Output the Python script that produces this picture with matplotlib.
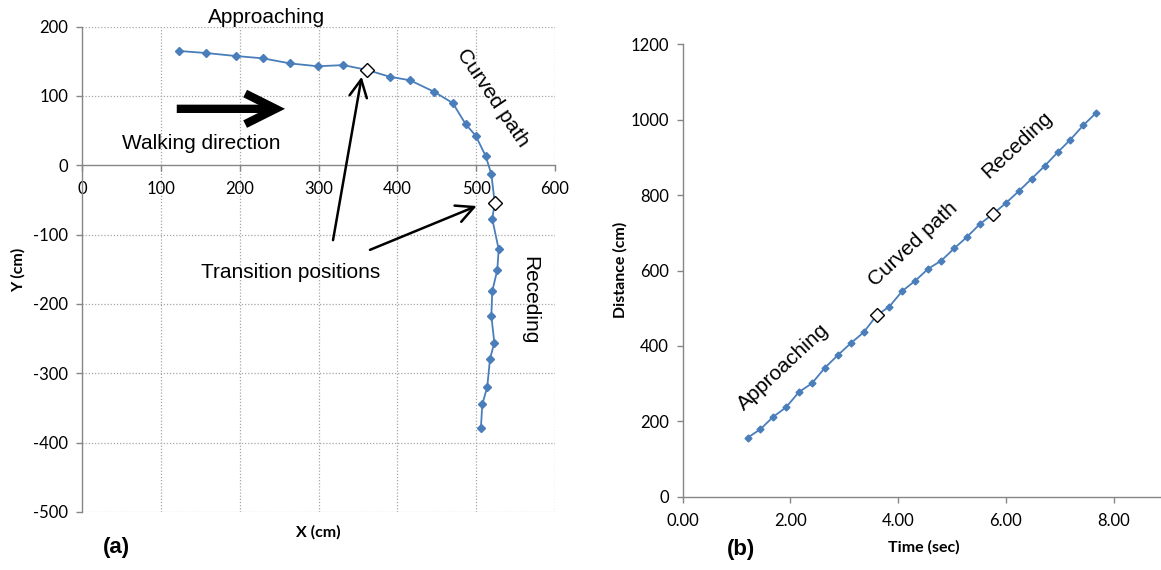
import matplotlib
matplotlib.use("Agg")
import matplotlib.pyplot as plt
import numpy as np

# ---------------- data ----------------
# (a) walking trajectory (cm)
path_x = [122.5, 157.5, 194.8, 229.0, 264.0, 298.9, 331.3, 361.8, 390.2, 416.0,
          446.4, 470.2, 486.7, 499.4, 512.0, 519.2, 523.5, 520.4, 528.5, 526.8,
          520.4, 519.2, 523.0, 517.5, 514.0, 507.7, 506.0]
path_y = [165.0, 162.0, 157.7, 154.4, 147.0, 142.9, 144.6, 137.5, 127.8, 122.7,
          106.2, 89.9, 59.2, 42.7, 13.4, -12.6, -54.0, -77.5, -121.0, -151.0,
          -181.5, -217.0, -256.0, -279.5, -320.0, -345.0, -378.6]
path_transitions = [7, 16]

# (b) distance vs time
time_s = [1.207, 1.441, 1.677, 1.918, 2.160, 2.401, 2.637, 2.878, 3.120, 3.361,
          3.603, 3.836, 4.078, 4.319, 4.561, 4.802, 5.043, 5.279, 5.520, 5.762,
          6.003, 6.245, 6.481, 6.722, 6.964, 7.198, 7.439, 7.680]
dist_cm = [156.5, 178.8, 211.4, 237.1, 277.7, 300.8, 341.4, 375.1, 406.9, 436.1,
           481.2, 504.0, 545.6, 572.9, 604.8, 626.0, 658.9, 688.9, 723.4, 749.9,
           779.1, 810.9, 843.6, 877.3, 913.6, 947.0, 985.1, 1018.6]
dist_transitions = [10, 19]

x_ticks_a = [0, 100, 200, 300, 400, 500, 600]
y_ticks_a = [-500, -400, -300, -200, -100, 0, 100, 200]
x_ticks_b = [0, 2, 4, 6, 8]
y_ticks_b = [0, 200, 400, 600, 800, 1000, 1200]

# ---------------- style ----------------
BLUE = "#4A7EBB"
AXC = "#868686"
GRIDC = "#A6A6A6"
TICKFONT = "Lato"
TXTFONT = "Liberation Sans"

W, H = 1161, 570
fig = plt.figure(figsize=(W / 100, H / 100), dpi=100)

# ---------------- (a) ----------------
axa = fig.add_axes([82.2 / W, 1 - 511.8 / H, (555.0 - 82.2) / W, (511.8 - 26.7) / H])
axa.set_xlim(0, 600)
axa.set_ylim(-500, 200)
for s in ["top", "right"]:
    axa.spines[s].set_visible(False)
axa.spines["bottom"].set_position(("data", 0))
for s in ["left", "bottom"]:
    axa.spines[s].set_color(AXC)
    axa.spines[s].set_linewidth(1.0)
axa.set_xticks(x_ticks_a)
axa.set_yticks(y_ticks_a)
axa.set_xticklabels([str(v) for v in x_ticks_a])
axa.set_yticklabels([str(v) for v in y_ticks_a])
axa.tick_params(axis="both", colors=AXC, labelcolor="black", length=4, width=1.0,
                direction="out", labelsize=12)
axa.tick_params(axis="x", pad=7)
axa.tick_params(axis="y", pad=6)
for lab in axa.get_xticklabels() + axa.get_yticklabels():
    lab.set_fontfamily(TICKFONT)
for v in x_ticks_a[1:]:
    axa.axvline(v, color=GRIDC, lw=0.9, ls=(0, (1, 1.5)), zorder=0)
for v in y_ticks_a:
    if v != 0:
        axa.axhline(v, color=GRIDC, lw=0.9, ls=(0, (1, 1.5)), zorder=0)

axa.plot(path_x, path_y, color=BLUE, lw=1.3, marker="D", ms=4.5,
         mfc=BLUE, mec=BLUE, zorder=3)
axa.plot([path_x[i] for i in path_transitions], [path_y[i] for i in path_transitions],
         ls="none", marker="D", ms=7.5, mfc="white", mec="black", mew=1.0, zorder=4)

axa.text(233.5, 213.7, "Approaching", fontsize=15, family=TXTFONT,
         ha="center", va="center", clip_on=False)
axa.text(151, 32, "Walking direction", fontsize=15, family=TXTFONT,
         ha="center", va="center")
axa.text(521, 97, "Curved path", fontsize=15, family=TXTFONT,
         ha="center", va="center", rotation=-56)
axa.text(568, -194.5, "Receding", fontsize=15, family=TXTFONT,
         ha="center", va="center", rotation=-90)
axa.text(264, -154, "Transition positions", fontsize=15, family=TXTFONT,
         ha="center", va="center")

# thick walking direction arrow
axa.annotate("", xy=(257.4, 81.5), xytext=(120, 81.5),
             arrowprops=dict(arrowstyle="->,head_length=1.1,head_width=0.55",
                             lw=6, color="black", mutation_scale=20,
                             shrinkA=0, shrinkB=0, joinstyle="miter",
                             capstyle="butt"))
# transition arrows
axa.annotate("", xy=(354.7, 127.8), xytext=(318.3, -108),
             arrowprops=dict(arrowstyle="->,head_length=0.9,head_width=0.45",
                             lw=1.8, color="black", mutation_scale=14,
                             shrinkA=0, shrinkB=0))
axa.annotate("", xy=(500.6, -58.7), xytext=(365.2, -122),
             arrowprops=dict(arrowstyle="->,head_length=0.9,head_width=0.45",
                             lw=1.8, color="black", mutation_scale=14,
                             shrinkA=0, shrinkB=0))

fig.text(18 / W, 1 - 270 / H, "Y (cm)", rotation=90, fontsize=11.5, fontweight="bold",
         family=TICKFONT, ha="center", va="center")
fig.text(318 / W, 1 - 532 / H, "X (cm)", fontsize=11.5, fontweight="bold",
         family=TICKFONT, ha="center", va="center")
fig.text(116 / W, 1 - 548 / H, "(a)", fontsize=16, fontweight="bold",
         family=TXTFONT, ha="center", va="center")

# ---------------- (b) ----------------
xmax_b = (W - 682.7) / 53.85
axb = fig.add_axes([682.7 / W, 1 - 496.7 / H, (W - 682.7) / W, (496.7 - 44.3) / H])
axb.set_xlim(0, xmax_b)
axb.set_ylim(0, 1200)
for s in ["top", "right"]:
    axb.spines[s].set_visible(False)
for s in ["left", "bottom"]:
    axb.spines[s].set_color(AXC)
    axb.spines[s].set_linewidth(1.0)
axb.set_xticks(x_ticks_b)
axb.set_yticks(y_ticks_b)
axb.set_xticklabels(["%.2f" % v for v in x_ticks_b])
axb.set_yticklabels([str(v) for v in y_ticks_b])
axb.tick_params(axis="both", colors=AXC, labelcolor="black", length=4, width=1.0,
                direction="out", labelsize=12)
axb.tick_params(axis="x", pad=8)
axb.tick_params(axis="y", pad=6)
for lab in axb.get_xticklabels() + axb.get_yticklabels():
    lab.set_fontfamily(TICKFONT)

axb.plot(time_s, dist_cm, color=BLUE, lw=1.3, marker="D", ms=3.5,
         mfc=BLUE, mec=BLUE, zorder=3)
axb.plot([time_s[i] for i in dist_transitions], [dist_cm[i] for i in dist_transitions],
         ls="none", marker="D", ms=7.5, mfc="white", mec="black", mew=1.0, zorder=4)

axb.text(1.868, 344.8, "Approaching", fontsize=15, family=TXTFONT,
         ha="center", va="center", rotation=43)
axb.text(4.282, 669.8, "Curved path", fontsize=15, family=TXTFONT,
         ha="center", va="center", rotation=43)
axb.text(6.202, 932.9, "Receding", fontsize=15, family=TXTFONT,
         ha="center", va="center", rotation=43)

fig.text(620 / W, 1 - 270 / H, "Distance (cm)", rotation=90, fontsize=11.5,
         fontweight="bold", family=TICKFONT, ha="center", va="center")
fig.text(924 / W, 1 - 547 / H, "Time (sec)", fontsize=11.5, fontweight="bold",
         family=TICKFONT, ha="center", va="center")
fig.text(741 / W, 1 - 550 / H, "(b)", fontsize=16, fontweight="bold",
         family=TXTFONT, ha="center", va="center")

fig.savefig("out.png", dpi=100)
